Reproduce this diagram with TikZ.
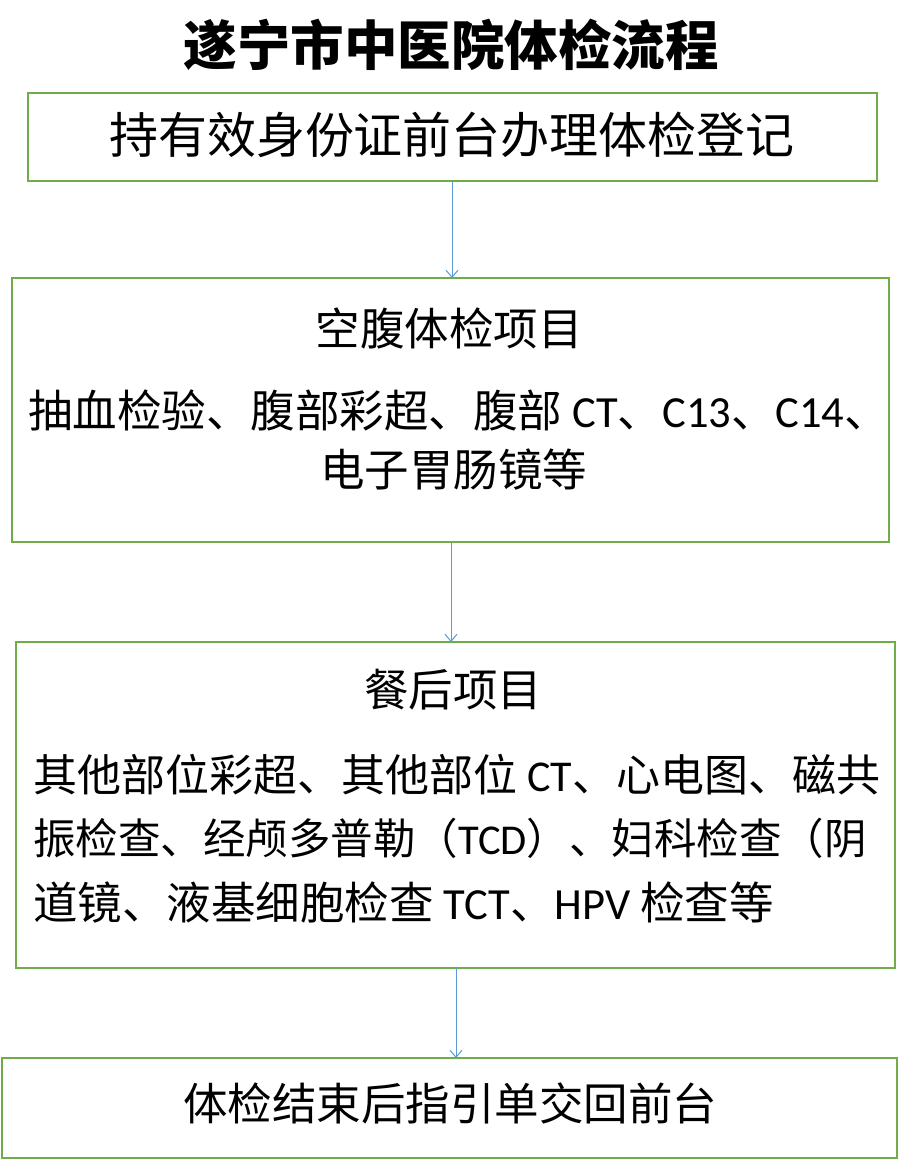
\documentclass[tikz,border=0pt]{standalone}
\usepackage{fontspec}
\setmainfont{Carlito}
\newfontfamily\cjk{Noto Sans CJK SC}
\newcommand{\lt}[1]{{\rmfamily #1}}
\definecolor{boxg}{RGB}{112,173,71}
\definecolor{arrb}{RGB}{91,155,213}
\tikzset{
 fbox/.style={draw=boxg,line width=1.5pt},
 txt/.style={font=\cjk\fontsize{44.5}{48}\selectfont,inner sep=0pt},
 conn/.style={draw=arrb,line width=1pt,-{Straight Barb[length=7pt,width=12pt]}},
}
\usetikzlibrary{arrows.meta}
\begin{document}
\begin{tikzpicture}[x=1pt,y=-1pt]
\useasboundingbox (0,0) rectangle (900,1160);
\fill[white] (0,0) rectangle (900,1160);
\node[font=\cjk\bfseries\fontsize{53.5}{56}\selectfont,inner sep=0pt] (title) at (451,45) {遂宁市中医院体检流程};
\draw[fbox] (28,93) rectangle (877,181);
\coordinate (b1t) at (452,181);
\node[txt,font=\cjk\fontsize{49}{52}\selectfont] (t1) at (452,135) {持有效身份证前台办理体检登记};
\draw[fbox] (12,278) rectangle (889,542);
\coordinate (b2t) at (452,278);
\coordinate (b2b) at (451,542);
\node[txt] (t2) at (449,328) {空腹体检项目};
\node[txt,anchor=west] (t2a) at (28,410) {抽血检验、腹部彩超、腹部 \lt{CT}、\lt{C13}、\lt{C14}、};
\node[txt,anchor=west] (t2b) at (320,470) {电子胃肠镜等};
\draw[fbox] (16,642) rectangle (895,968);
\coordinate (b3t) at (451,642);
\coordinate (b3b) at (456,968);
\node[txt] (t3) at (453,690) {餐后项目};
\node[txt,anchor=west,font=\cjk\fontsize{44}{48}\selectfont] (t3a) at (33,775) {其他部位彩超、其他部位 \lt{CT}、心电图、磁共};
\node[txt,anchor=west,font=\cjk\fontsize{42.5}{48}\selectfont] (t3b) at (33,838) {振检查、经颅多普勒（\lt{TCD}）、妇科检查（阴};
\node[txt,anchor=west] (t3c) at (33,902) {道镜、液基细胞检查 \lt{TCT}、\lt{HPV} 检查等};
\draw[fbox] (2,1058) rectangle (897,1158);
\coordinate (b4t) at (456,1058);
\node[txt] (t4) at (450,1103) {体检结束后指引单交回前台};
\draw[conn] (b1t) -- (b2t);
\draw[conn] (b2b) -- (b3t);
\draw[conn] (b3b) -- (b4t);
\end{tikzpicture}
\end{document}
